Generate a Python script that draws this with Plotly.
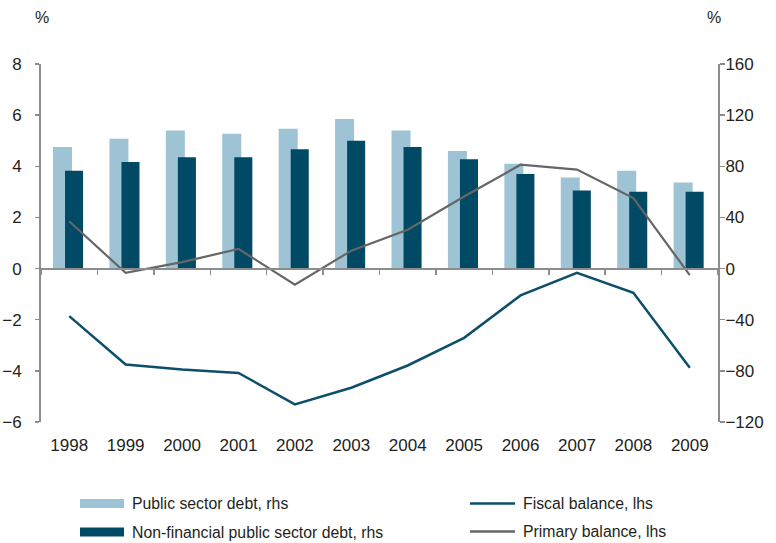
import plotly.graph_objects as go

years = ["1998", "1999", "2000", "2001", "2002", "2003", "2004", "2005", "2006", "2007", "2008", "2009"]
public_debt = [95, 101.5, 108, 105.4, 109.3, 117, 108, 92, 82, 71.3, 76.5, 67.4]
nonfin_debt = [76.5, 83.3, 87, 87, 93.4, 100, 95, 85.6, 74, 61, 60, 60]
fiscal_balance = [-1.86, -3.75, -3.95, -4.08, -5.31, -4.66, -3.79, -2.71, -1.05, -0.17, -0.95, -3.88]
primary_balance = [1.85, -0.17, 0.25, 0.77, -0.63, 0.7, 1.52, 2.82, 4.06, 3.87, 2.76, -0.26]

lhs_ticks = [-6, -4, -2, 0, 2, 4, 6, 8]
lhs_labels = ["\u22126", "\u22124", "\u22122", "0", "2", "4", "6", "8"]
rhs_ticks = [-120, -80, -40, 0, 40, 80, 120, 160]
rhs_labels = ["\u2212120", "\u221280", "\u221240", "0", "40", "80", "120", "160"]

LIGHT = "#9DC3D4"
DARK = "#004A66"
FISCAL = "#0D4F6B"
PRIMARY = "#666666"
AXIS = "#8C8C8C"
TEXT = "#231F20"
FONT = "Liberation Sans Narrow, Arial Narrow, Liberation Sans, Arial, sans-serif"
TICK_SIZE = 17
LEG_SIZE = 15.8

fig = go.Figure()
fig.add_trace(go.Bar(x=years, y=public_debt, name="Public sector debt, rhs",
                     marker=dict(color=LIGHT, line=dict(width=0)),
                     offset=-0.287, width=0.337, xaxis="x", yaxis="y", showlegend=False))
fig.add_trace(go.Bar(x=years, y=nonfin_debt, name="Non-financial public sector debt, rhs",
                     marker=dict(color=DARK, line=dict(width=0)),
                     offset=-0.074, width=0.32, xaxis="x", yaxis="y", showlegend=False))
fig.add_trace(go.Scatter(x=years, y=fiscal_balance, name="Fiscal balance, lhs", mode="lines",
                         line=dict(color=FISCAL, width=2.5), xaxis="x2", yaxis="y2", showlegend=False))
fig.add_trace(go.Scatter(x=years, y=primary_balance, name="Primary balance, lhs", mode="lines",
                         line=dict(color=PRIMARY, width=2.2), xaxis="x2", yaxis="y2", showlegend=False))

W, H = 776, 543
# plot area in window pixels: x 41..718, y 64..422
L, T = 41, 64
R, B = W - 718, H - 422
pw, ph = W - L - R, H - T - B

def px(x):
    return (x - L) / pw

def py(y):
    return (H - B - y) / ph

zero_pos = (0 - lhs_ticks[0]) / (lhs_ticks[-1] - lhs_ticks[0])

fig.update_layout(
    template="none",
    width=W, height=H,
    margin=dict(l=L, r=R, t=T, b=B, pad=0, autoexpand=False),
    paper_bgcolor="white", plot_bgcolor="white",
    barmode="overlay",
    font=dict(family=FONT, size=TICK_SIZE, color=TEXT),
    showlegend=False,
    xaxis=dict(type="category", categoryorder="array", categoryarray=years,
               range=[-0.5, len(years) - 0.5], automargin=False,
               showline=False, showgrid=False, zeroline=False, ticks="",
               tickfont=dict(size=TICK_SIZE, color=TEXT), ticklabelstandoff=11),
    xaxis2=dict(type="category", overlaying="x", matches="x", anchor="free", position=zero_pos,
                automargin=False,
                showline=True, linecolor=AXIS, linewidth=2, showgrid=False, zeroline=False,
                ticks="outside", tickson="boundaries", ticklen=5, tickcolor=AXIS, tickwidth=1.5,
                showticklabels=False),
    yaxis=dict(side="right", range=[rhs_ticks[0], rhs_ticks[-1]], tickmode="array",
               tickvals=rhs_ticks, ticktext=rhs_labels, automargin=False,
               showline=True, linecolor=AXIS, linewidth=2, showgrid=False, zeroline=False,
               ticks="outside", ticklen=5, tickcolor=AXIS, tickwidth=1.5,
               tickfont=dict(size=TICK_SIZE, color=TEXT), ticklabelstandoff=-3),
    yaxis2=dict(side="left", overlaying="y", range=[lhs_ticks[0], lhs_ticks[-1]], tickmode="array",
                tickvals=lhs_ticks, ticktext=lhs_labels, automargin=False,
                showline=True, linecolor=AXIS, linewidth=2, showgrid=False,
                zeroline=False, ticks="outside", ticklen=4, tickcolor=AXIS, tickwidth=1.5,
                tickfont=dict(size=TICK_SIZE, color=TEXT), ticklabelstandoff=10),
)

annotations = [
    dict(text="%", x=px(42), y=py(17.5), xref="paper", yref="paper", showarrow=False,
         xanchor="center", yanchor="middle", font=dict(size=16, color=TEXT)),
    dict(text="%", x=px(713.7), y=py(17.5), xref="paper", yref="paper", showarrow=False,
         xanchor="center", yanchor="middle", font=dict(size=16, color=TEXT)),
]
shapes = []

legend_items = [
    ("bar", LIGHT, "Public sector debt, rhs", 80, 124, 130, 503.5),
    ("bar", DARK, "Non-financial public sector debt, rhs", 80, 124, 130, 532),
    ("line", FISCAL, "Fiscal balance, lhs", 470, 515, 521, 503.5),
    ("line", PRIMARY, "Primary balance, lhs", 470, 515, 521, 531.5),
]
for kind, color, label, x0, x1, tx, yc in legend_items:
    if kind == "bar":
        shapes.append(dict(type="rect", xref="paper", yref="paper", x0=px(x0), x1=px(x1),
                           y0=py(yc - 4.5), y1=py(yc + 4.5), fillcolor=color, line=dict(width=0)))
    else:
        shapes.append(dict(type="line", xref="paper", yref="paper", x0=px(x0), x1=px(x1),
                           y0=py(yc), y1=py(yc), line=dict(color=color, width=2.5)))
    annotations.append(dict(text=label, x=px(tx), y=py(yc), xref="paper", yref="paper",
                            showarrow=False, xanchor="left", yanchor="middle",
                            font=dict(size=LEG_SIZE, color=TEXT)))

fig.update_layout(annotations=annotations, shapes=shapes)
fig.write_html("out.html", config={"displayModeBar": False, "staticPlot": True},
               post_script="document.body.style.margin='0px';document.body.style.overflow='hidden';")
